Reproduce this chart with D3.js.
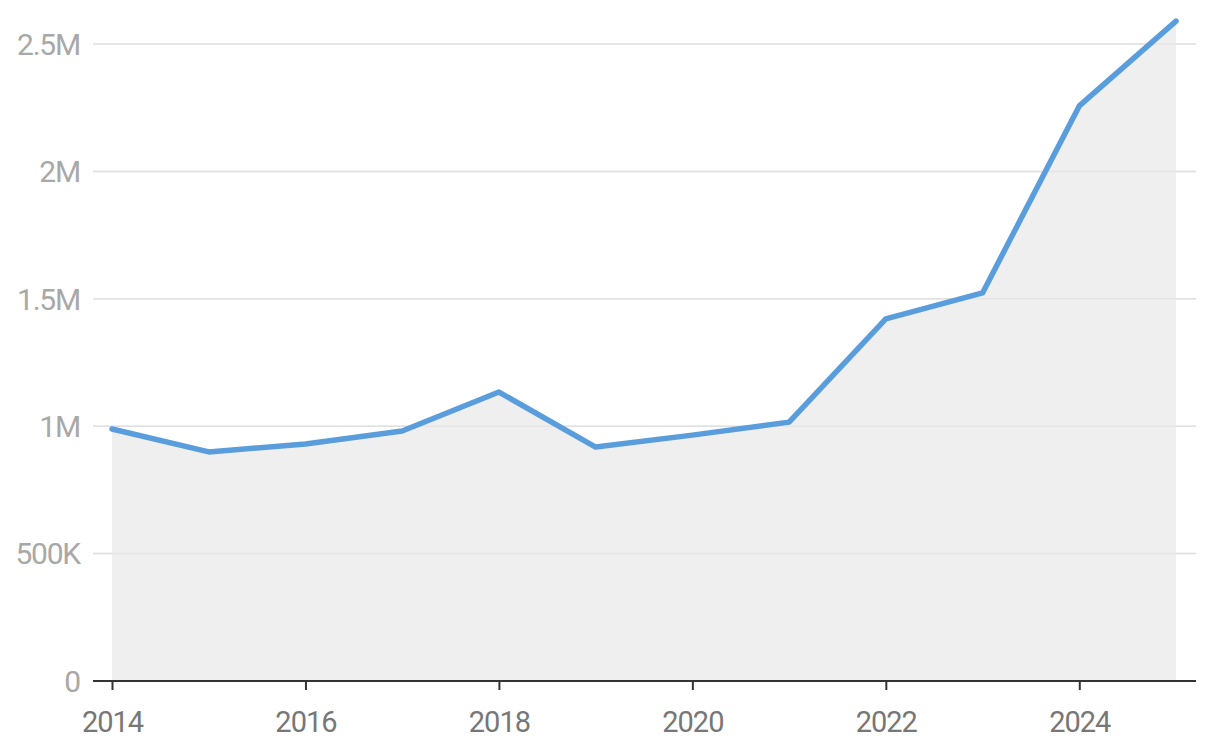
<!DOCTYPE html>
<html>
<head>
<meta charset="utf-8">
<script src="https://cdn.jsdelivr.net/npm/d3@7"></script>
<style>
  html, body { margin: 0; padding: 0; background: #fff; }
  svg { display: block; font-family: Roboto, "Open Sans", sans-serif; }
</style>
</head>
<body>
<svg id="chart" width="1220" height="750"></svg>
<script>
const years = [2014, 2015, 2016, 2017, 2018, 2019, 2020, 2021, 2022, 2023, 2024, 2025];
const values = [989000, 899000, 930000, 981000, 1134000, 918000, 965000, 1016000, 1421000, 1523000, 2257000, 2590000];
const yTicks = [0, 500000, 1000000, 1500000, 2000000, 2500000];
const yTickLabels = ["0", "500K", "1M", "1.5M", "2M", "2.5M"];
const xTicks = [2014, 2016, 2018, 2020, 2022, 2024];

const data = years.map((y, i) => ({ year: y, value: values[i] }));
const svg = d3.select("#chart");

const x = d3.scaleLinear().domain([2014, 2025]).range([112, 1176]);
const y = d3.scaleLinear().domain([0, 2500000]).range([681, 44]);
const left = 93, right = 1196;

// gridlines
svg.append("g").selectAll("line").data(yTicks.slice(1)).join("line")
  .attr("x1", left).attr("x2", right)
  .attr("y1", d => y(d)).attr("y2", d => y(d))
  .attr("stroke", "#e2e2e2").attr("stroke-width", 1.5);

// area
svg.append("path").datum(data)
  .attr("fill", "#efefef")
  .attr("d", d3.area().x(d => x(d.year)).y0(y(0)).y1(d => y(d.value)));

// gridlines faintly over the area
svg.append("g").selectAll("line").data(yTicks.slice(1)).join("line")
  .attr("x1", left).attr("x2", right)
  .attr("y1", d => y(d)).attr("y2", d => y(d))
  .attr("stroke", "#e0e0e0").attr("stroke-width", 1.5).attr("opacity", 0.6);

// line
svg.append("path").datum(data)
  .attr("fill", "none")
  .attr("stroke", "#5a9ddc")
  .attr("stroke-width", 5.5)
  .attr("stroke-linejoin", "round")
  .attr("stroke-linecap", "round")
  .attr("d", d3.line().x(d => x(d.year)).y(d => y(d.value)));

// y labels
svg.append("g").selectAll("text").data(yTicks).join("text")
  .attr("x", 80).attr("y", d => y(d))
  .attr("dy", "0.36em")
  .attr("text-anchor", "end")
  .attr("fill", "#a8a8a8")
  .attr("font-size", 30)
  .attr("letter-spacing", "-1.2px")
  .text((d, i) => yTickLabels[i]);

// x axis
const xAxis = d3.axisBottom(x).tickValues(xTicks).tickFormat(d3.format("d")).tickSize(9).tickPadding(21);
const gx = svg.append("g").attr("transform", `translate(0,${y(0)})`).call(xAxis);
gx.select(".domain").remove();
gx.append("line").attr("x1", left).attr("x2", right).attr("y1", 0).attr("y2", 0)
  .attr("stroke", "#333").attr("stroke-width", 2);
gx.selectAll(".tick line").attr("stroke", "#333").attr("stroke-width", 2);
gx.selectAll(".tick text").attr("fill", "#777").attr("font-size", 29)
  .attr("letter-spacing", "-1px")
  .attr("font-family", "Roboto, 'Open Sans', sans-serif");
</script>
</body>
</html>
